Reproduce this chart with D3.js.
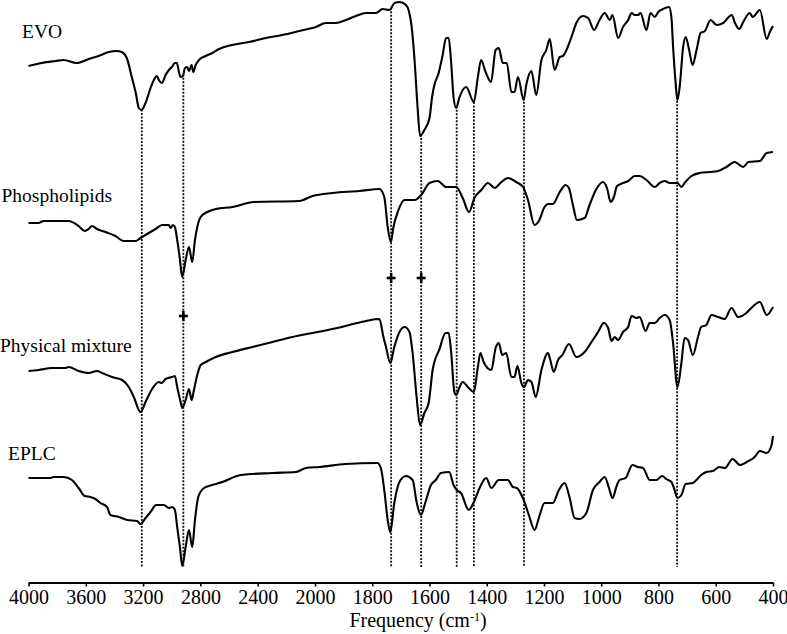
<!DOCTYPE html>
<html>
<head>
<meta charset="utf-8">
<script src="https://cdn.jsdelivr.net/npm/d3@7"></script>
<style>
  body { margin: 0; background: #fff; }
  svg { display: block; }
  svg text { font-family: "Liberation Serif", "Tinos", "Times New Roman", Times, "DejaVu Serif", serif; }
</style>
</head>
<body>
<div id="chart"></div>
<script>
// spectra: [wavenumber (cm-1), stacked transmittance (a.u.)] ---------------------------------------
const evo = [
  [4000,517],[3909,520],[3811,522],[3755,523],[3664,520],[3580,524],[3510,527],[3440,531],[3384,532],
  [3349,531],[3314,525],[3279,506],[3251,490],[3230,475],[3211,473],[3183,480],[3148,495],[3125,503],
  [3104,507],[3090,503],[3069,500],[3043,508],[3020,513],[2999,516],[2978,520],[2964,520],[2950,511],
  [2938,506],[2922,507],[2908,515],[2892,516],[2880,512],[2861,518],[2850,511],[2833,518],[2810,523],
  [2763,527],[2717,530],[2670,534],[2579,538],[2460,541],[2343,545],[2229,548],[2110,552],[1997,556],
  [1962,560],[1927,560],[1892,563],[1857,567],[1822,570],[1787,570],[1764,574],[1740,573],[1722,580],
  [1705,581],[1682,578],[1664,560],[1653,526],[1641,473],[1633,447],[1618,453],[1600,465],[1591,486],
  [1583,498],[1568,510],[1554,528],[1542,545],[1533,545],[1525,523],[1516,486],[1507,475],[1495,486],
  [1472,496],[1445,481],[1431,506],[1420,523],[1404,511],[1385,501],[1369,533],[1358,535],[1344,520],
  [1330,520],[1314,491],[1303,491],[1291,506],[1271,483],[1262,498],[1244,512],[1227,488],[1209,523],
  [1192,533],[1180,544],[1163,513],[1145,526],[1134,527],[1104,546],[1087,560],[1064,567],[1046,565],
  [1025,553],[1006,563],[988,570],[970,563],[961,568],[941,545],[924,556],[906,563],[894,570],[883,568],
  [871,568],[863,570],[842,553],[828,570],[813,566],[801,571],[784,574],[763,576],[755,566],[749,536],
  [741,503],[734,483],[726,496],[714,536],[705,546],[693,533],[681,518],[667,533],[653,550],[638,552],
  [618,563],[597,558],[574,560],[544,568],[533,560],[518,554],[504,561],[481,570],[471,566],[446,573],
  [422,544],[411,551],[400,557]
];

const phospholipids = [
  [4000,360],[3930,360],[3895,362],[3720,362],[3650,357],[3608,352],[3580,354],[3557,357],[3522,354],
  [3463,351],[3393,347],[3335,342],[3253,342],[3218,345],[3172,349],[3113,354],[3067,358],[3020,358],
  [3008,355],[2992,358],[2978,356],[2962,343],[2945,326],[2927,306],[2903,323],[2880,336],[2857,321],
  [2838,343],[2822,356],[2798,366],[2752,371],[2693,374],[2577,376],[2425,381],[2110,382],[2017,387],
  [1939,390],[1845,392],[1775,394],[1758,386],[1746,356],[1735,341],[1726,356],[1711,371],[1687,383],
  [1652,383],[1629,388],[1600,400],[1571,402],[1542,396],[1507,396],[1484,385],[1462,371],[1443,385],
  [1419,393],[1396,400],[1372,395],[1349,401],[1326,405],[1297,401],[1273,396],[1256,383],[1233,358],
  [1218,362],[1198,376],[1186,379],[1169,379],[1145,391],[1124,398],[1113,395],[1099,378],[1085,363],
  [1058,365],[1041,378],[1017,394],[994,401],[980,395],[967,381],[956,386],[945,397],[924,400],
  [906,402],[883,407],[866,407],[842,403],[813,396],[796,400],[778,402],[761,400],[734,400],[720,396],
  [709,400],[685,407],[656,410],[621,411],[592,412],[563,416],[534,421],[504,416],[486,421],[446,422],
  [422,430],[400,431]
];

const physicalMixture = [
  [4000,212],[3930,213],[3837,215],[3743,215],[3720,216],[3650,212],[3580,210],[3522,212],[3487,210],
  [3417,206],[3347,203],[3300,196],[3265,186],[3218,171],[3183,181],[3137,194],[3090,201],[3071,200],
  [3043,204],[2997,206],[2978,207],[2962,196],[2938,181],[2927,175],[2903,183],[2880,194],[2861,183],
  [2845,193],[2822,208],[2798,218],[2763,221],[2693,226],[2577,231],[2437,236],[2297,241],[2157,246],
  [2017,250],[1939,254],[1880,258],[1822,262],[1775,264],[1761,246],[1752,236],[1737,220],[1723,236],
  [1705,251],[1687,256],[1670,251],[1659,230],[1645,186],[1633,158],[1618,170],[1603,180],[1589,213],
  [1565,234],[1544,250],[1533,250],[1525,233],[1513,191],[1507,188],[1495,196],[1484,201],[1463,195],
  [1445,191],[1431,216],[1422,230],[1411,221],[1384,213],[1369,235],[1358,240],[1346,228],[1332,230],
  [1314,206],[1303,206],[1293,217],[1279,200],[1270,196],[1256,203],[1244,201],[1229,186],[1209,213],
  [1186,230],[1178,223],[1166,211],[1151,223],[1136,228],[1113,239],[1087,226],[1058,231],[1034,241],
  [1011,251],[991,260],[976,255],[964,242],[953,246],[941,243],[924,251],[906,256],[894,267],[877,265],
  [866,266],[845,252],[831,260],[813,260],[796,265],[778,268],[761,263],[749,240],[734,196],[720,220],
  [709,245],[697,243],[680,228],[662,246],[651,256],[633,258],[615,268],[592,266],[569,264],[545,275],
  [522,266],[493,270],[476,275],[446,281],[422,268],[400,276]
];

const eplc = [
  [4000,105],[3848,105],[3825,106],[3755,106],[3697,103],[3650,95],[3608,87],[3568,86],[3533,84],
  [3498,80],[3452,76],[3428,68],[3370,66],[3312,63],[3242,62],[3218,59],[3183,65],[3148,71],[3109,78],
  [3055,78],[3020,75],[2997,76],[2978,73],[2962,56],[2943,36],[2927,17],[2903,36],[2880,53],[2857,36],
  [2838,63],[2815,86],[2775,95],[2717,98],[2647,101],[2518,108],[2297,110],[2133,111],[2063,115],
  [1985,116],[1893,119],[1782,120],[1770,115],[1758,93],[1746,63],[1737,51],[1723,80],[1705,101],
  [1682,107],[1659,103],[1645,81],[1630,68],[1615,80],[1595,98],[1578,103],[1560,110],[1531,111],
  [1516,98],[1505,93],[1490,90],[1463,73],[1445,81],[1425,95],[1402,105],[1384,95],[1358,103],
  [1326,103],[1309,96],[1295,95],[1271,83],[1253,68],[1233,53],[1218,65],[1198,80],[1169,80],[1148,93],
  [1128,100],[1111,86],[1093,65],[1076,64],[1052,70],[1029,93],[1006,101],[988,106],[973,95],[961,85],
  [945,98],[936,103],[915,105],[891,118],[872,116],[854,115],[831,103],[808,103],[787,107],[773,104],
  [755,101],[746,95],[734,85],[720,88],[705,99],[680,100],[651,108],[633,111],[610,112],[587,116],
  [568,115],[541,124],[515,118],[492,121],[464,126],[446,132],[422,130],[405,138],[400,147]
];

const seriesNames = ['EVO', 'Phospholipids', 'Physical mixture', 'EPLC'];
const seriesData = [evo, phospholipids, physicalMixture, eplc];

// band positions marked with dotted guides, and the "+" markers
const bandLines = [3209, 2919, 1734, 1629, 1505, 1445, 1270, 735];
const guideBottom = 16;
const crossMarks = [[2919, 267], [1734, 305], [1629, 305]];

const tickValues = [4000, 3600, 3200, 2800, 2400, 2000, 1800, 1600, 1400, 1200, 1000, 800, 600, 400];

// chart --------------------------------------------------------------------------------------------
const width = 787;
const height = 634;
const fontStack = '"Liberation Serif", "Tinos", "Times New Roman", Times, "DejaVu Serif", serif';

const svg = d3.select('#chart')
    .append('svg')
    .attr('width', width)
    .attr('height', height)
    .attr('font-family', fontStack);

// instrument-style axis: half scale above 2000 cm-1
const xScale = d3.scaleLinear()
    .domain([4000, 2000, 400])
    .range([28.5, 315, 773]);

const yScale = d3.scaleLinear()
    .domain([0, 583])
    .range([583, 0]);

// interpolate the top spectrum so guides start on it
function valueAt(series, f) {
    for (let i = 0; i < series.length - 1; i++) {
        const [f0, v0] = series[i];
        const [f1, v1] = series[i + 1];
        if (f <= f0 && f >= f1) {
            return v0 + (v1 - v0) * (f0 - f) / (f0 - f1);
        }
    }
    return series[series.length - 1][1];
}

// dotted guides
svg.append('g')
    .selectAll('line')
    .data(bandLines)
    .join('line')
    .attr('x1', d => xScale(d))
    .attr('x2', d => xScale(d))
    .attr('y1', d => yScale(valueAt(evo, d)))
    .attr('y2', yScale(guideBottom))
    .attr('stroke', '#111')
    .attr('stroke-width', 1.8)
    .attr('stroke-dasharray', '2,1.5');

// spectra
const line = d3.line()
    .x(d => xScale(d[0]))
    .y(d => yScale(d[1]))
    .curve(d3.curveMonotoneX);

svg.append('g')
    .selectAll('path')
    .data(seriesData)
    .join('path')
    .attr('d', line)
    .attr('fill', 'none')
    .attr('stroke', '#000')
    .attr('stroke-width', 2.1)
    .attr('stroke-linejoin', 'round');

// "+" markers
const cross = svg.append('g')
    .selectAll('g')
    .data(crossMarks)
    .join('g')
    .attr('transform', d => `translate(${xScale(d[0])},${yScale(d[1])})`);
cross.append('line').attr('x1', -4.5).attr('x2', 4.5).attr('stroke', '#000').attr('stroke-width', 2.6);
cross.append('line').attr('y1', -5).attr('y2', 5).attr('stroke', '#000').attr('stroke-width', 2.6);

// series labels
const labelPos = [[22, 38], [1.5, 202], [0, 352], [8, 460]];
svg.append('g')
    .selectAll('text')
    .data(seriesNames)
    .join('text')
    .attr('x', (d, i) => labelPos[i][0])
    .attr('y', (d, i) => labelPos[i][1])
    .attr('font-size', '19.5px')
    .attr('fill', '#000')
    .text(d => d);

// x axis
const xAxis = svg.append('g')
    .attr('transform', `translate(0,${yScale(0) - 0.5})`)
    .call(d3.axisBottom(xScale)
        .tickValues(tickValues)
        .tickFormat(d3.format('d'))
        .tickSize(4)
        .tickSizeOuter(0)
        .tickPadding(3))
    .attr('font-family', fontStack)
    .attr('font-size', 20);

xAxis.select('.domain').attr('stroke', '#000').attr('stroke-width', 2);
xAxis.selectAll('.tick line').attr('stroke', '#000').attr('stroke-width', 1.6);
xAxis.selectAll('.tick text').attr('fill', '#000');

// x axis label
const xLabel = svg.append('text')
    .attr('x', 418)
    .attr('y', 627)
    .attr('text-anchor', 'middle')
    .attr('font-size', '20px')
    .attr('fill', '#000');
xLabel.append('tspan').text('Frequency (cm');
xLabel.append('tspan').attr('font-size', '12px').attr('dy', -6).text('-1');
xLabel.append('tspan').attr('dy', 6).text(')');
</script>
</body>
</html>
